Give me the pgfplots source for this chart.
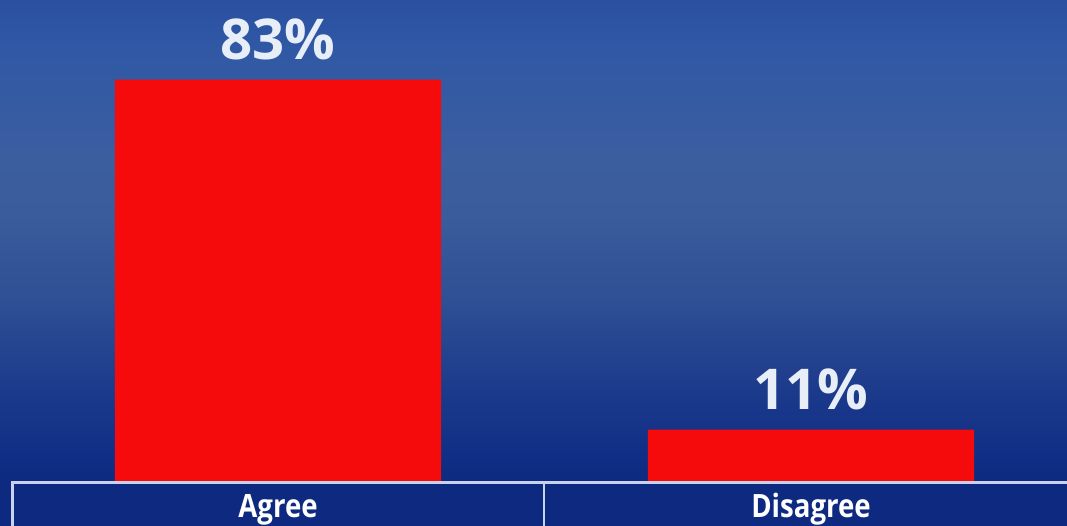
\documentclass[border=0pt]{standalone}
\usepackage{pgfplots}
\pgfplotsset{compat=1.18}
\usepackage{fontspec}
\setmainfont{Open Sans}
\newfontfamily\condfont[FakeStretch=0.86]{Open Sans}

\definecolor{barred}{HTML}{F50B0B}
\definecolor{labelwhite}{HTML}{E8EEF8}
\definecolor{band}{HTML}{0D2A80}
\definecolor{linecol}{HTML}{C8D2EB}
\definecolor{bg0}{HTML}{0C2A80}
\definecolor{bg1}{HTML}{112F86}
\definecolor{bg2}{HTML}{1E3C8C}
\definecolor{bg3}{HTML}{2E5094}
\definecolor{bg4}{HTML}{3A5C9D}
\definecolor{bg5}{HTML}{3B5E9F}
\definecolor{bg6}{HTML}{3058A5}
\definecolor{bg7}{HTML}{2A50A0}

\pgfdeclareverticalshading{bgshade}{100bp}{color(0bp)=(bg0); color(25bp)=(bg0); color(28.5bp)=(bg1); color(35.5bp)=(bg2); color(44bp)=(bg3); color(52.5bp)=(bg4); color(58.5bp)=(bg5); color(70bp)=(bg6); color(75bp)=(bg7); color(100bp)=(bg7)}

\begin{document}
\begin{tikzpicture}
\path[use as bounding box] (0,0) rectangle (16cm,7.887cm);
\begin{scope}[x=0.0149953cm, y=0.0149953cm]
  \shade[shading=bgshade] (0,43) rectangle (1067,526);
  \fill[band] (0,0) rectangle (1067,43);
\end{scope}

\begin{axis}[
  at={(0cm,0.6448cm)}, anchor=south west,
  scale only axis, width=16cm, height=7.2427cm,
  xmin=-0.5216, xmax=1.4803, ymin=0, ymax=99.4,
  axis line style={draw=none}, major tick length=0pt,
  ytick=\empty, xtick={0,1}, xticklabels={Agree,Disagree},
  xticklabel style={anchor=base, inner sep=0pt, yshift=-0.525cm,
    text=white, font=\condfont\fontsize{13.7}{14}\selectfont\bfseries},
  /pgf/number format/assume math mode=true,
  ybar, bar width=4.89cm,
  nodes near coords={\pgfmathprintnumber{\pgfplotspointmeta}\%},
  every node near coord/.append style={anchor=base, inner sep=0pt,
    yshift=0.3cm, text=labelwhite, font=\fontsize{24}{24}\selectfont\bfseries},
]
\addplot[fill=barred, draw=none] coordinates {(0,83) (1,11)};
\end{axis}

\begin{scope}[x=0.0149953cm, y=0.0149953cm]
  \draw[linecol, line width=0.045cm] (12,0) -- (12,43) -- (1070,43);
  \draw[linecol, line width=0.03cm] (544,0) -- (544,43);
\end{scope}
\end{tikzpicture}
\end{document}
